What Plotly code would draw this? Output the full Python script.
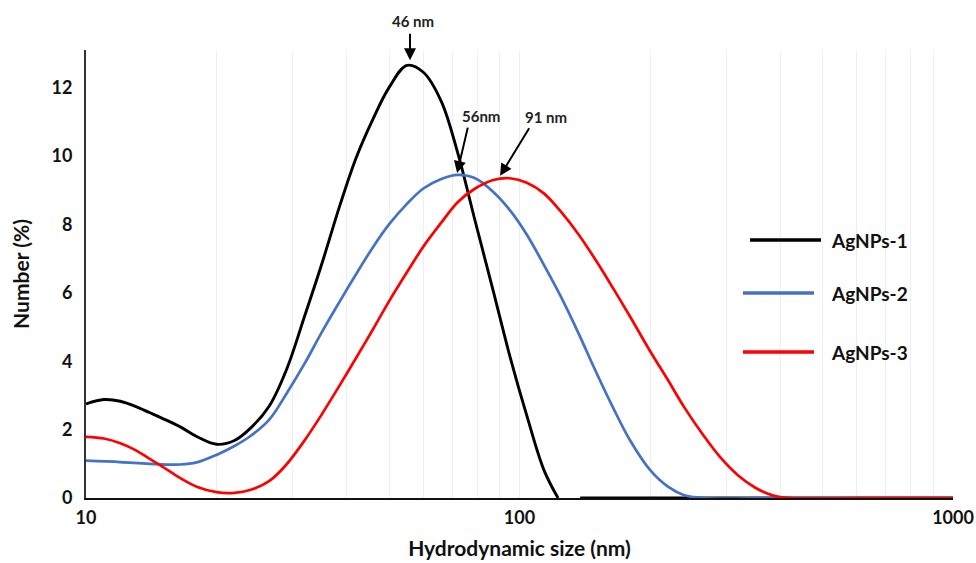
import math
import plotly.graph_objects as go

# ---- data (x in nm, y in %) ----
black_x = [10, 11, 12, 13, 14, 15, 16.5, 18, 20, 22, 24, 26.5, 29, 32, 35, 38.5, 42, 46, 50,
           55, 60, 66, 72, 79, 87, 95, 104, 114, 122.7, None, 138, 400, 1000]
black_y = [2.75, 2.88, 2.83, 2.68, 2.5, 2.33, 2.08, 1.8, 1.57, 1.68, 2.05, 2.7, 3.75, 5.35,
           6.85, 8.55, 9.95, 11.1, 12.0, 12.65, 12.45, 11.6, 10.1, 8.1, 6.05, 4.15, 2.4,
           0.8, 0.0, None, 0.0, 0.0, 0.0]

blue_x = [10, 12, 14, 16.5, 18, 20, 22, 24, 26.5, 29, 32, 35, 38.5, 42, 46, 50, 55, 60, 66,
          72, 79, 87, 95, 104, 114, 125, 137, 150, 165, 180, 200, 220, 240, 265, 400, 1000]
blue_y = [1.09, 1.05, 1.0, 0.98, 1.04, 1.26, 1.52, 1.82, 2.3, 3.05, 3.95, 4.85, 5.75, 6.55,
          7.35, 8.0, 8.6, 9.05, 9.33, 9.45, 9.35, 8.95, 8.42, 7.7, 6.8, 5.85, 4.8, 3.7, 2.6,
          1.68, 0.82, 0.33, 0.08, 0.0, 0.0, 0.0]

red_x = [10, 11, 12, 13, 14, 15, 16.5, 18, 20, 22, 24, 26.5, 29, 32, 35, 38.5, 42, 46, 50,
         55, 60, 66, 72, 79, 87, 95, 104, 114, 125, 137, 150, 165, 180, 200, 220, 240, 265,
         290, 320, 350, 385, 420, 600, 1000]
red_y = [1.79, 1.74, 1.6, 1.4, 1.15, 0.92, 0.58, 0.33, 0.17, 0.15, 0.24, 0.5, 0.98, 1.7,
         2.45, 3.3, 4.1, 4.95, 5.75, 6.6, 7.35, 8.05, 8.65, 9.05, 9.3, 9.35, 9.22, 8.9, 8.35,
         7.7, 6.95, 6.1, 5.3, 4.3, 3.45, 2.65, 1.85, 1.2, 0.65, 0.3, 0.07, 0.0, 0.0, 0.0]

series_names = ["AgNPs-1", "AgNPs-2", "AgNPs-3"]
series_colors = ["#000000", "#4472C4", "#FF0000"]

# peak labels
peak_labels = ["46 nm", "56nm", "91 nm"]
peak_head_x = [55.9, 71.8, 90.2]
peak_head_y = [12.8, 9.5, 9.42]
peak_text_x = [56.9, 81.7, 115.2]
peak_text_py = [21, 116, 117]   # pixel rows of label centres in the reference

x_tickvals = [10, 20, 30, 40, 50, 60, 70, 80, 90, 100, 200, 300, 400, 500, 600, 700, 800, 900, 1000]
x_ticktext = ["10"] + [""] * 8 + ["100"] + [""] * 8 + ["1000"]
y_tickvals = [0, 2, 4, 6, 8, 10, 12]

FONT = "Lato"
W, H = 976, 563
ML, MR, MT, MB = 86, 23, 50, 65
plot_h = H - MT - MB
plot_w = W - ML - MR

fig = go.Figure()
for xs, ys, name, col, w in zip([black_x, blue_x, red_x], [black_y, blue_y, red_y],
                                series_names, series_colors, [2.9, 2.7, 2.7]):
    fig.add_trace(go.Scatter(x=xs, y=ys, mode="lines", name=name,
                             line=dict(color=col, width=w, shape="spline", smoothing=1.0),
                             connectgaps=False, showlegend=False))

# arrows
tails = [(0, -28), (11, -47), (30, -49)]
for hx, hy, (ax, ay) in zip(peak_head_x, peak_head_y, tails):
    fig.add_annotation(x=math.log10(hx), y=hy, text="", showarrow=True, arrowhead=2,
                       arrowsize=1.2, arrowwidth=2, arrowcolor="#000", ax=ax, ay=ay,
                       standoff=0)
for t, tx, py in zip(peak_labels, peak_text_x, peak_text_py):
    fig.add_annotation(x=math.log10(tx), xref="x", yref="paper",
                       y=(H - MB - py) / plot_h, yanchor="middle", xanchor="center",
                       text=t, showarrow=False,
                       font=dict(family=FONT, size=15, color="#222", weight="bold"))

# manual legend
leg_py = [240, 293, 352]
leg_x0 = [750, 743, 743]
for name, col, py, px0 in zip(series_names, series_colors, leg_py, leg_x0):
    ly = (H - MB - py) / plot_h
    fig.add_shape(type="line", xref="paper", yref="paper",
                  x0=(px0 - ML) / plot_w, x1=(px0 + 71 - ML) / plot_w,
                  y0=ly, y1=ly, line=dict(color=col, width=3.5))
    fig.add_annotation(xref="paper", yref="paper", x=(829 - ML) / plot_w, y=ly, text=name,
                       showarrow=False, xanchor="left", yanchor="middle",
                       font=dict(family=FONT, size=19, color="#111", weight="bold"))

fig.update_layout(
    width=W, height=H,
    margin=dict(l=ML, r=MR, t=MT, b=MB),
    paper_bgcolor="white", plot_bgcolor="white",
    font=dict(family=FONT, color="#111"),
)
fig.update_xaxes(type="log", range=[1, 3], tickvals=x_tickvals, ticktext=x_ticktext,
                 automargin=False,
                 showgrid=True, gridcolor="#efefef", gridwidth=1, zeroline=False,
                 showline=True, linecolor="#111", linewidth=2, ticks="",
                 tickfont=dict(family=FONT, size=18, weight="bold"), ticklabelstandoff=2,
                 title=dict(text="Hydrodynamic size (nm)", standoff=15,
                            font=dict(family=FONT, size=21, weight="bold")))
fig.update_yaxes(range=[0, 13.1], tickvals=y_tickvals, showgrid=False, zeroline=False,
                 automargin=False,
                 showline=True, linecolor="#333", linewidth=2, ticks="",
                 tickfont=dict(family=FONT, size=18, weight="bold"), ticklabelstandoff=8,
                 title=dict(text="Number (%)", standoff=16,
                            font=dict(family=FONT, size=21, weight="bold")))

fig.write_html("out.html")
